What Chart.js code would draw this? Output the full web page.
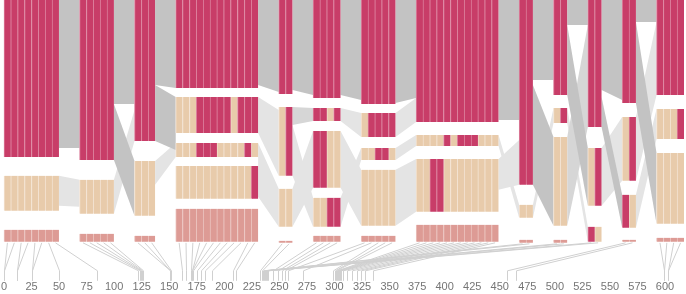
<!DOCTYPE html>
<html><head><meta charset="utf-8">
<script src="https://cdn.jsdelivr.net/npm/chart.js@4/dist/chart.umd.min.js"></script>
<style>html,body{margin:0;padding:0;background:#fff}#wrap{width:686px;height:294px;position:relative}</style>
</head><body><div id="wrap"><canvas id="c" width="686" height="294"></canvas></div>
<script>
// ---------- data ----------
const tickValues = [0,25,50,75,100,125,150,175,200,225,250,275,300,325,350,375,400,425,450,475,500,525,550,575,600];
const columnSizes = [8,5,3,12,2,4,5,12,2,2,2,2,4];
// rows per column: [top, bottom, cell classes per stripe]  r = red, b = beige, p = pink
const c01Rows = [[0,157,'rrrrrrrr'],[176,211,'bbbbbbbb'],[230,242,'pppppppp']];
const c02Rows = [[0,160,'rrrrr'],[180,214,'bbbbb'],[234,242,'ppppp']];
const c03Rows = [[0,141,'rrr'],[161,216,'bbb'],[236,242,'ppp']];
const c04Rows = [[0,88,'rrrrrrrrrrrr'],[97,133,'bbbrrrrrbrrr'],[143,157,'bbbrrrbbbbrb'],[166,199,'bbbbbbbbbbbr'],[209,242,'pppppppppppp']];
const c05Rows = [[0,94,'rr'],[107,176,'br'],[189,227,'bb'],[241,243,'pp']];
const c06Rows = [[0,98,'rrrr'],[108,121,'rrbr'],[131,188,'rrbb'],[198,227,'bbrr'],[236,242,'pppp']];
const c07Rows = [[0,104,'rrrrr'],[113,137,'brrrr'],[148,160,'bbrrb'],[170,226,'bbbbb'],[236,242,'ppppp']];
const c08Rows = [[0,122,'rrrrrrrrrrrr'],[135,146,'bbbbrbrrrbbb'],[159,212,'bbrrbbbbbbbb'],[225,242,'pppppppppppp']];
const c09Rows = [[0,185,'rr'],[205,218,'bb'],[240,243,'pp']];
const c10Rows = [[0,95,'rr'],[108,123,'br'],[137,226,'bb'],[240,243,'pp']];
const c11Rows = [[0,127,'rr'],[148,206,'br'],[227,242,'rb']];
const c12Rows = [[0,103,'rr'],[117,181,'br'],[195,228,'rb'],[240,242,'pp']];
const c13Rows = [[0,95,'rrrr'],[109,139,'bbbr'],[153,224,'bbbb'],[238,242,'pppp']];
const columnRows = [c01Rows,c02Rows,c03Rows,c04Rows,c05Rows,c06Rows,c07Rows,c08Rows,c09Rows,c10Rows,c11Rows,c12Rows,c13Rows];

// item values (position on the bottom axis) for each stripe of each column
const c01Values = [0,0,12,12,25,25,50,84];
const c02Values = [122,123,124,125,126];
const c03Values = [151,151,152];
const c04Values = [162,165,170,171,171,172,175,179,182,189,208,211];
const c05Values = [232,234];
const c06Values = [244,249,252,255];
const c07Values = [258,271,299,300,301];
const c08Values = [302,303,304,305,306,308,311,316,320,324,328,335];
const c09Values = [235,236];
const c10Values = [237,238];
const c11Values = [239,240];
const c12Values = [457,465];
const c13Values = [599,599,603,603];
const itemValues = [c01Values,c02Values,c03Values,c04Values,c05Values,c06Values,c07Values,c08Values,c09Values,c10Values,c11Values,c12Values,c13Values];

// flows between neighbouring columns: [left top, left bottom, right top, right bottom, weight class]
const g01Flows = [[0,148,0,148,2],[176,206,180,207,0]];
const g02Flows = [[180,214,110,141,0],[0,104,0,104,2],[104,160,161,216,2]];
const g03Flows = [[161,185,143,157,0],[0,85,0,88,2],[85,141,97,150,2]];
const g04Flows = [[97,133,110,176,0],[143,197,189,227,0],[0,85,0,92,2]];
const g05Flows = [[125,176,198,227,0],[189,227,131,188,0],[107,125,108,121,1],[0,90,0,95,2]];
const g06Flows = [[108,121,113,137,0],[131,188,170,226,0],[198,227,148,160,0],[0,95,0,100,2]];
const g07Flows = [[113,137,98,122,0],[148,160,135,146,0],[170,226,159,212,0],[0,103,0,98,2]];
const g08Flows = [[135,146,205,218,0],[159,190,140,185,0],[0,120,0,120,2]];
const g09Flows = [[205,218,108,123,0],[0,80,0,80,2],[85,185,137,226,2]];
const g10Flows = [[108,123,227,242,0],[137,226,25,127,1],[0,25,0,25,2],[25,95,148,206,2]];
const g11Flows = [[148,206,117,181,0],[0,90,0,100,2],[97,127,195,228,2]];
const g12Flows = [[117,181,22,95,0],[195,228,109,139,0],[0,22,0,22,2],[22,103,153,224,2]];
const gapFlows = [g01Flows,g02Flows,g03Flows,g04Flows,g05Flows,g06Flows,g07Flows,g08Flows,g09Flows,g10Flows,g11Flows,g12Flows];

// ---------- styling / layout ----------
const GAP = 3; // gap between columns in stripe units
const cellColors = {r:'#c83d68', b:'#e8cbab', p:'#dd9b95'};
const sepColors = {r:'#dc7f9c', b:'#f3e2d1', p:'#ebc2bd'};
const flowShades = ['#e4e4e4','#d6d6d6','#c3c3c3'];

const colStart = [];
columnSizes.reduce((acc, n, i) => { colStart[i] = acc; return acc + n + GAP; }, 0);

function cells(cls) {
  const out = [];
  columnRows.forEach((rows, c) => rows.forEach(r => {
    for (let k = 0; k < r[2].length; k++) if (r[2][k] === cls) out.push({x: colStart[c] + k + 0.5, y: [r[0], r[1]]});
  }));
  return out;
}
const datasets = ['r','b','p'].map(cls => ({
  data: cells(cls), xAxisID: 'x2', yAxisID: 'y',
  backgroundColor: cellColors[cls], borderColor: sepColors[cls],
  borderWidth: {left: 1, right: 0, top: 0, bottom: 0}, borderSkipped: false,
  grouped: false, barPercentage: 1, categoryPercentage: 1
}));

const linkPlugin = {
  id: 'links',
  beforeDatasetsDraw(chart) {
    const {ctx, chartArea, scales} = chart;
    const sx = scales.x, sx2 = scales.x2, sy = scales.y;
    ctx.save();
    for (let shade = 0; shade < flowShades.length; shade++) {
      ctx.fillStyle = flowShades[shade];
      gapFlows.forEach((flows, g) => {
        const xa = sx2.getPixelForValue(colStart[g] + columnSizes[g]);
        const xb = sx2.getPixelForValue(colStart[g + 1]);
        flows.forEach(f => {
          if (f[4] !== shade) return;
          ctx.beginPath();
          ctx.moveTo(xa, sy.getPixelForValue(f[0]));
          ctx.lineTo(xb, sy.getPixelForValue(f[2]));
          ctx.lineTo(xb, sy.getPixelForValue(f[3]));
          ctx.lineTo(xa, sy.getPixelForValue(f[1]));
          ctx.closePath();
          ctx.fill();
        });
      });
    }
    ctx.strokeStyle = '#d0d0d0';
    ctx.lineWidth = 1;
    columnRows.forEach((rows, c) => {
      const bottom = Math.max(...rows.map(r => r[1]));
      const yTop = sy.getPixelForValue(bottom) + 1;
      itemValues[c].forEach((v, k) => {
        const xs = sx2.getPixelForValue(colStart[c] + k + 0.5);
        const xv = Math.round(sx.getPixelForValue(v)) + 0.5;
        ctx.beginPath();
        ctx.moveTo(xs, yTop);
        ctx.lineTo(xv, chartArea.bottom);
        ctx.lineTo(xv, chartArea.bottom + 10);
        ctx.stroke();
      });
    });
    ctx.restore();
  }
};

const totalUnits = colStart[colStart.length - 1] + columnSizes[columnSizes.length - 1];
const pxPerUnit = 680 / totalUnits;

new Chart(document.getElementById('c'), {
  type: 'bar',
  data: {datasets},
  plugins: [linkPlugin],
  options: {
    responsive: false, animation: false,
    layout: {padding: 0},
    plugins: {legend: {display: false}, tooltip: {enabled: false}},
    scales: {
      x: {
        type: 'linear', position: 'bottom', offset: false, min: -4 / 1.1017, max: -4 / 1.1017 + 686 / 1.1017,
        afterBuildTicks: s => { s.ticks = tickValues.map(v => ({value: v})); },
        ticks: {autoSkip: false, maxRotation: 0, padding: 0, color: '#757575', font: {family: 'Liberation Sans, Arial, sans-serif', size: 11}},
        grid: {display: true, offset: false, drawOnChartArea: false, drawTicks: true, tickLength: 10, color: 'rgba(0,0,0,0)'},
        border: {display: false}
      },
      x2: {type: 'linear', display: false, offset: false, grid: {offset: false}, min: -4 / pxPerUnit, max: -4 / pxPerUnit + 686 / pxPerUnit},
      y: {type: 'linear', display: false, min: 0, max: 271, reverse: true}
    }
  }
});
</script></body></html>
